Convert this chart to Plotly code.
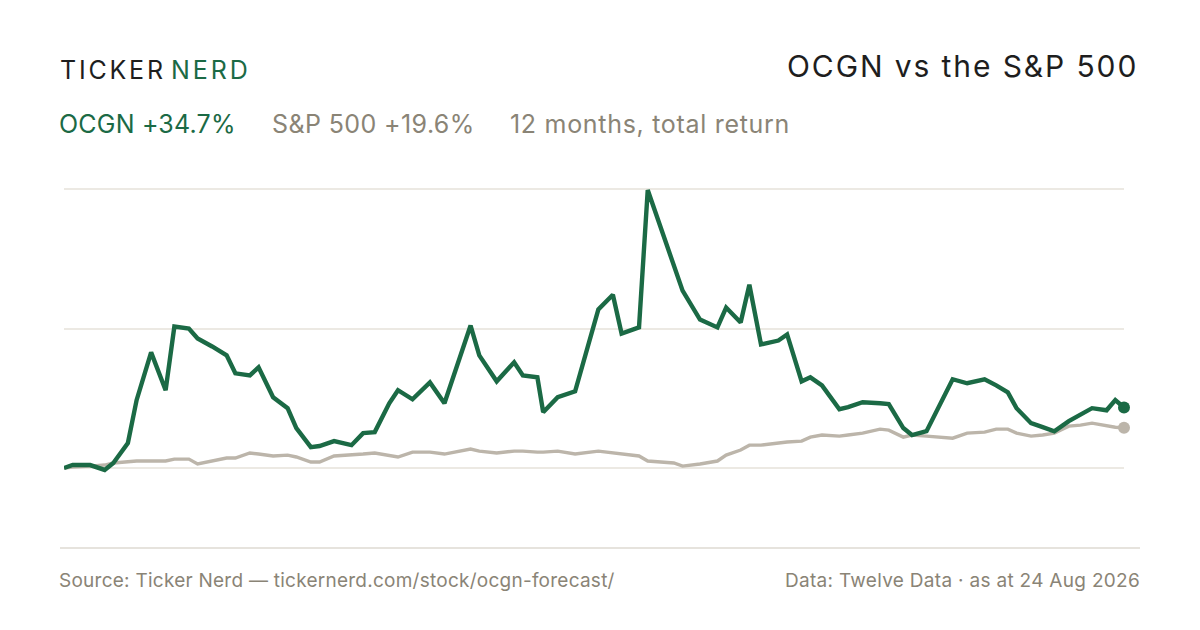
import pandas as pd
import plotly.graph_objects as go

# ---- data ----
start_date = "2025-08-24"
obs_day = [0, 3, 9, 14, 17, 22, 25, 30, 35, 38, 43, 46, 51, 56, 59, 64, 67, 72, 77, 80,
           85, 88, 93, 99, 103, 107, 112, 115, 120, 126, 131, 140, 143, 149, 155, 158, 163, 165, 170, 176,
           184, 189, 192, 198, 201, 210, 213, 219, 225, 228, 233, 236, 240, 246, 249, 254, 257, 261, 267, 270,
           275, 281, 284, 289, 292, 297, 302, 306, 311, 317, 321, 325, 328, 333, 337, 341, 346, 350, 354, 359,
           362, 365]
ocgn_ret = [0.0, 1.7, 1.7, -1.1, 2.9, 14.3, 38.9, 66.3, 44.6, 81.1, 80.0, 74.3, 69.7, 64.6, 54.3, 53.1, 57.7, 40.6, 34.3, 22.9,
            12.0, 12.6, 15.4, 13.1, 20.0, 20.6, 37.1, 44.6, 39.4, 49.1, 37.1, 81.7, 64.6, 49.7, 60.6, 53.1, 52.0, 32.0, 40.6, 44.0,
            90.9, 99.4, 77.1, 80.6, 159.4, 117.1, 101.7, 85.1, 80.6, 92.0, 83.4, 105.1, 70.9, 73.1, 76.6, 49.7, 52.0, 47.4, 33.7, 34.9,
            37.7, 37.1, 36.6, 22.9, 18.9, 21.1, 37.1, 50.9, 48.6, 50.9, 47.4, 43.4, 34.3, 25.7, 23.4, 21.1, 26.9, 30.3, 34.3, 33.1,
            38.9, 34.7]
spx_ret = [0.0, 0.6, 1.1, 1.7, 2.9, 3.4, 4.0, 4.0, 4.0, 5.1, 5.1, 2.3, 4.0, 5.7, 5.7, 8.6, 8.0, 6.9, 7.4, 6.3,
           3.4, 3.4, 6.9, 7.4, 8.0, 8.6, 7.4, 6.3, 9.1, 9.1, 8.0, 10.9, 9.7, 8.6, 9.7, 9.7, 9.1, 9.1, 9.7, 8.0,
           9.7, 8.6, 8.0, 6.9, 4.0, 2.9, 1.1, 2.3, 4.0, 7.4, 10.3, 13.1, 13.1, 14.3, 14.9, 15.4, 17.7, 18.9, 18.3, 18.9,
           20.0, 22.3, 21.7, 17.7, 18.9, 18.3, 17.7, 17.1, 20.0, 20.6, 22.3, 22.3, 20.0, 18.3, 18.9, 20.0, 24.0, 24.6, 25.7, 24.0,
           23.4, 23.1]
grid_vals = [0, 80, 160]

brand_left = "TICKER"
brand_right = "NERD"
title_text = "OCGN vs the S&P 500"
ocgn_label = "OCGN +34.7%"
spx_label = "S&P 500 +19.6%"
period_label = "12 months, total return"
source_text = "Source: Ticker Nerd — tickernerd.com/stock/ocgn-forecast/"
data_text = "Data: Twelve Data · as at 24 Aug 2026"

# ---- styling ----
GREEN = "#1b6a45"
SPX = "#bcb5aa"
GREY_TXT = "#8a8476"
DARK = "#1e1e1e"
GRID = "#ece9e3"
FONT = "Inter"

dates = pd.to_datetime(start_date) + pd.to_timedelta(obs_day, unit="D")

OFF = 8                      # page body margin
W, H = 1200 - OFF, 630 - OFF
PL, PR, PT, PB = 64, 1124, 180, 548   # plot area in page pixels
L, R, T, B = PL - OFF, W - (PR - OFF), PT - OFF, H - (PB - OFF)
PW, PH = PR - PL, PB - PT


def px(x):
    return (x - PL) / PW


def py(y):
    return (PB - y) / PH


def spaced(s, sp):
    return f'<span style="letter-spacing:{sp}px">{s}</span>'


fig = go.Figure()
fig.add_trace(go.Scatter(x=dates, y=spx_ret, mode="lines",
                         line=dict(color=SPX, width=3.4), hoverinfo="skip"))
fig.add_trace(go.Scatter(x=dates, y=ocgn_ret, mode="lines",
                         line=dict(color=GREEN, width=4.4), hoverinfo="skip"))
fig.add_trace(go.Scatter(x=[dates[-1]], y=[spx_ret[-1]], mode="markers", cliponaxis=False,
                         marker=dict(color=SPX, size=12), hoverinfo="skip"))
fig.add_trace(go.Scatter(x=[dates[-1]], y=[ocgn_ret[-1]], mode="markers", cliponaxis=False,
                         marker=dict(color=GREEN, size=12), hoverinfo="skip"))


def note(x, y, text, anchor, size, color):
    return dict(x=px(x), y=py(y), xref="paper", yref="paper", xanchor=anchor, yanchor="middle",
                text=text, showarrow=False, font=dict(family=FONT, size=size, color=color))


ann = [
    note(58, 70, spaced(brand_left, 2.8), "left", 25, DARK),
    note(169, 70, spaced(brand_right, 2.9), "left", 25, GREEN),
    note(1140, 66, spaced(title_text, 1.9), "right", 30, DARK),
    note(57, 124, spaced(ocgn_label, 0.2), "left", 25, GREEN),
    note(270, 124, spaced(spx_label, 0.4), "left", 25, GREY_TXT),
    note(508, 124, spaced(period_label, 0.7), "left", 25, GREY_TXT),
    note(57, 580, spaced(source_text, 0.25), "left", 19, GREY_TXT),
    note(1142, 580, spaced(data_text, 0.3), "right", 19, GREY_TXT),
]

shapes = [dict(type="line", xref="paper", yref="paper", x0=px(60), x1=px(1140), y0=py(548), y1=py(548),
               line=dict(color="#dedad2", width=1.5))]

top_val = grid_vals[-1] * (468 - PT) / (468 - 189)
bot_val = -grid_vals[-1] * (PB - 468) / (468 - 189)

fig.update_layout(
    width=W, height=H, margin=dict(l=L, r=R, t=T, b=B, pad=0),
    paper_bgcolor="white", plot_bgcolor="white", showlegend=False,
    xaxis=dict(range=[dates[0], dates[-1]], showgrid=False, zeroline=False, showticklabels=False,
               showline=False, ticks=""),
    yaxis=dict(range=[bot_val, top_val], tickvals=grid_vals, showticklabels=False, showgrid=True,
               gridcolor=GRID, gridwidth=1.5, zeroline=False, showline=False, ticks=""),
    annotations=ann, shapes=shapes,
)

fig.write_html("out.html")
